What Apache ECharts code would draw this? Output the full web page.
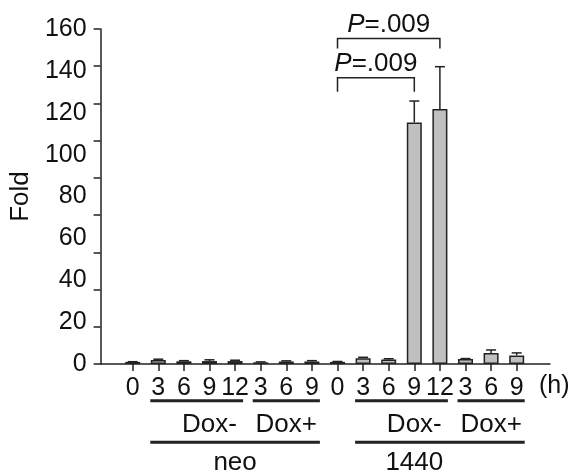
<!DOCTYPE html>
<html>
<head>
<meta charset="utf-8">
<script src="https://cdn.jsdelivr.net/npm/echarts@6/dist/echarts.min.js"></script>
<style>html,body{margin:0;padding:0;background:#fff}#c{width:574px;height:475px}</style>
</head>
<body>
<div id="c"></div>
<script>
// ---- data ----
var categories = ['0','3','6','9','12','3','6','9','0','3','6','9','12','3','6','9'];
var foldMean  = [1.0, 1.9, 1.3, 1.4, 1.4, 0.8, 1.2, 1.2, 1.0, 2.7, 2.1, 115.4, 121.8, 2.4, 5.3, 4.1];
var foldUpper = [1.1, 2.3, 1.6, 2.0, 1.8, 1.0, 1.5, 1.6, 1.2, 3.2, 2.5, 125.6, 142.0, 2.6, 6.7, 5.3];
var yTickLabels = ['0','20','40','60','80','100','120','140','160'];
// groups: [startIdx, endIdx, label(, labelIdx)]
var groupsRow1 = [[1, 4, 'Dox-'], [5, 7, 'Dox+'], [9, 12, 'Dox-'], [13, 15, 'Dox+']];
var groupsRow2 = [[1, 7, 'neo', 4.25], [9, 15, '1440', 11.3]];
// significance brackets: [startIdx, endIdx, lineValue, dropValue, label]
var brackets = [[8, 12, 155.5, 150.7, 'P=.009'], [8, 11, 136.7, 130.0, 'P=.009']];

var FONT = '"Liberation Sans", Arial, Helvetica, sans-serif';
var INK = '#222';
var chart = echarts.init(document.getElementById('c'), null, {renderer: 'canvas'});

var errData = foldMean.map(function (m, i) { return [i, m, foldUpper[i]]; });
var g1 = groupsRow1.map(function (g) { return [g[0], g[1], 1, g[2], (g[0] + g[1]) / 2]; });
var g2 = groupsRow2.map(function (g) { return [g[0], g[1], 2, g[2], g[3]]; });
var allGroups = g1.concat(g2);

chart.setOption({
  animation: false,
  grid: [
    {left: 100, top: 29, width: 450, height: 335},
    {left: 119.9, top: 29, width: 409.6, height: 335}
  ],
  xAxis: [
    {gridIndex: 0, type: 'value', min: 0, max: 1, axisLine: {show: true, onZero: false, lineStyle: {color: INK, width: 1.5}},
     axisTick: {show: false}, axisLabel: {show: false}, splitLine: {show: false}},
    {gridIndex: 1, type: 'category', data: categories, axisLine: {show: false},
     axisTick: {show: true, alignWithLabel: true, length: 7, lineStyle: {color: INK, width: 1.5}},
     axisLabel: {interval: 0, hideOverlap: false, fontSize: 25, fontFamily: FONT, color: '#111', margin: 12},
     splitLine: {show: false}}
  ],
  yAxis: [
    {gridIndex: 0, type: 'value', position: 'left', min: 0, max: 160, interval: 20, axisLine: {show: false}, axisTick: {show: false},
     axisLabel: {fontSize: 25, fontFamily: FONT, color: '#111', margin: 14,
                 formatter: function (v) { return yTickLabels[Math.round(v / 20)]; }},
     splitLine: {show: false},
     name: 'Fold', nameLocation: 'middle', nameRotate: 90, nameGap: 61,
     nameTextStyle: {fontSize: 26, fontFamily: FONT, color: '#111'}},
    {gridIndex: 0, type: 'value', position: 'left', offset: 0, min: 0, max: 160, interval: 160 / 9,
     axisLine: {show: true, onZero: false, lineStyle: {color: INK, width: 1.5}},
     axisTick: {show: true, length: 7, lineStyle: {color: INK, width: 1.5}}, axisLabel: {show: false}, splitLine: {show: false}},
    {gridIndex: 1, type: 'value', min: 0, max: 160, show: false, splitLine: {show: false}}
  ],
  series: [
    {type: 'bar', xAxisIndex: 1, yAxisIndex: 2, data: foldMean, barWidth: 15,
     itemStyle: {color: '#c0c0c0', borderColor: INK, borderWidth: 1.5}},
    {type: 'custom', xAxisIndex: 1, yAxisIndex: 2, data: errData, clip: false, z: 3,
     renderItem: function (params, api) {
       var top = api.coord([api.value(0), api.value(1)]);
       var up = api.coord([api.value(0), api.value(2)]);
       return {type: 'group', children: [
         {type: 'line', shape: {x1: top[0], y1: top[1], x2: up[0], y2: up[1]}, style: {stroke: INK, lineWidth: 1.5}},
         {type: 'line', shape: {x1: up[0] - 5, y1: up[1], x2: up[0] + 5, y2: up[1]}, style: {stroke: INK, lineWidth: 1.5}}
       ]};
     }},
    {type: 'custom', xAxisIndex: 1, yAxisIndex: 2, data: brackets, clip: false, z: 3,
     renderItem: function (params, api) {
       var a = api.coord([api.value(0), api.value(2)]);
       var b = api.coord([api.value(1), api.value(2)]);
       var d = api.coord([api.value(0), api.value(3)]);
       return {type: 'group', children: [
         {type: 'polyline', shape: {points: [[a[0], d[1]], [a[0], a[1]], [b[0], a[1]], [b[0], d[1]]]},
          style: {stroke: INK, lineWidth: 1.5, fill: null}},
         {type: 'text', x: (a[0] + b[0]) / 2, y: a[1] - 14,
          style: {text: '{i|P}=.009', rich: {i: {fontStyle: 'italic', fontSize: 26, fontFamily: FONT, fill: '#111'}},
                  fontSize: 26, fontFamily: FONT, fill: '#111', align: 'center', verticalAlign: 'middle'}}
       ]};
     }},
    {type: 'custom', xAxisIndex: 1, yAxisIndex: 2, data: allGroups, clip: false, z: 3,
     renderItem: function (params, api) {
       var g = allGroups[params.dataIndex];
       var row = g[2];
       var base = api.coord([0, 0])[1];
       var x1 = api.coord([g[0], 0])[0] - 8;
       var x2 = api.coord([g[1], 0])[0] + 8;
       var tx = api.coord([g[4], 0])[0];
       var ly = base + (row === 1 ? 36.7 : 78.3);
       var ty = base + (row === 1 ? 61 : 99.3);
       return {type: 'group', children: [
         {type: 'line', shape: {x1: x1, y1: ly, x2: x2, y2: ly}, style: {stroke: INK, lineWidth: 3}},
         {type: 'text', x: tx, y: ty, style: {text: g[3], fontSize: 26, fontFamily: FONT, fill: '#111',
           align: 'center', verticalAlign: 'middle'}}
       ]};
     }}
  ],
  graphic: [
    {type: 'text', left: 539, top: 374, style: {text: '(h)', fontSize: 25, fontFamily: FONT, fill: '#111'}}
  ]
});
</script>
</body>
</html>
